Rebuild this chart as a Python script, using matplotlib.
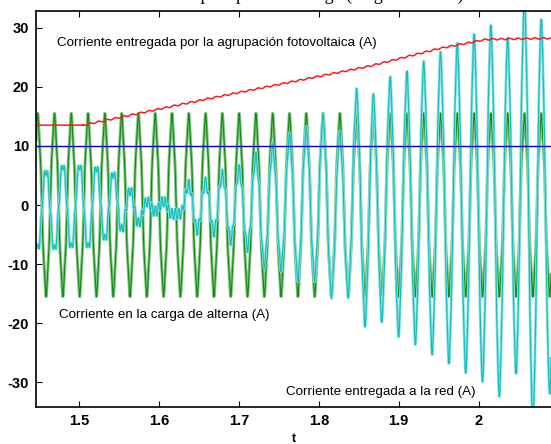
import numpy as np
import matplotlib.pyplot as plt

plt.rcParams['font.family'] = ['Liberation Sans', 'DejaVu Sans']
plt.rcParams['axes.unicode_minus'] = False

# ventana de tiempo / corriente
t_lim = (1.4462, 2.0905)
i_lim = (-34.1, 32.8)

# corriente de la agrupacion fotovoltaica (A)
pv_t = [1.4462, 1.505, 1.659, 1.864, 1.952, 2.010, 2.0905]
pv_i = [13.5, 13.5, 17.9, 23.5, 26.5, 28.0, 28.2]
pv_ripple = 0.12

# nivel de referencia (A)
i_ref = 10.0

# ciclo de red
t_first_peak = 1.4483
period = 0.021

# corriente en la carga de alterna: picos (A)
load_peak = 15.5
load_trough = -15.5

# corriente entregada a la red: extremos en cada semiciclo (desde t_first_peak - T/2)
grid_ext = [6.0,
            -7.5, 5.9, -7.6, 6.8, -7.3, 6.8, -7.3, 6.5, -5.9, 5.4,
            -4.2, 2.5, -3.1, 0.6, -1.1, 0.6, -1.5, -1.5, 3.4, -4.2,
            3.8, -4.5, 5.1, -5.9, 5.9, -7.1, 8.0, -9.9, 9.6, -10.4,
            11.3, -12.1, 12.4, -12.1, 14.4, -14.9, 11.6, -14.8, 18.8, -19.7,
            17.9, -18.9, 20.8, -21.4, 21.7, -22.7, 23.4, -24.4, 25.0, -25.9,
            26.5, -27.5, 28.0, -29.0, 29.5, -31.5, 27.4, -27.6, 34.0, -36.0,
            30.5, -31.0, 30.0]

harm = 0.9  # rizado de 5o armonico


def half_cycle_wave(t, t_start, half, ext):
    # une los extremos de cada semiciclo con medio coseno
    ext = np.asarray(ext, dtype=float)
    pos = (t - t_start) / half
    k = np.clip(np.floor(pos).astype(int), 0, len(ext) - 2)
    u = pos - k
    return ext[k] + (ext[k + 1] - ext[k]) * (1 - np.cos(np.pi * u)) / 2


t = np.arange(t_lim[0], t_lim[1] + 0.0002, 0.0001)
half = period / 2
theta = 2 * np.pi * (t - t_first_peak) / period

n_half = len(grid_ext)
load_ext = [load_peak if (n % 2 == 1) else load_trough for n in range(n_half)]
i_load = half_cycle_wave(t, t_first_peak - half, half, load_ext)
i_load = i_load * (load_peak - harm) / load_peak + harm * np.cos(5 * theta)
i_grid = half_cycle_wave(t, t_first_peak - half, half, grid_ext)
i_grid = i_grid + harm * np.cos(5 * theta)

i_pv = np.interp(t, pv_t, pv_i)
i_pv = i_pv + pv_ripple * np.sin(2 * theta) * (t > pv_t[1])

fig = plt.figure(figsize=(5.51, 4.44), dpi=100)
ax = fig.add_axes([36 / 551, 37.3 / 444, 1 - 36 / 551, 395.7 / 444])

ax.plot(t, i_load, color='#80c480', lw=2.2)
ax.plot(t, i_load, color='#168a16', lw=0.8)
ax.plot(t, i_grid, color='#8adfdf', lw=2.0)
ax.plot(t, i_grid, color='#12c0c0', lw=0.8)
ax.plot(t, i_pv, color='#ff1a1a', lw=1.1)
ax.axhline(i_ref, color='#0000c8', lw=1.0)

ax.set_xlim(*t_lim)
ax.set_ylim(*i_lim)
ax.set_xticks([1.5, 1.6, 1.7, 1.8, 1.9, 2.0])
ax.set_xticklabels(['1.5', '1.6', '1.7', '1.8', '1.9', '2'])
ax.set_yticks([-30, -20, -10, 0, 10, 20, 30])
ax.tick_params(direction='in', length=4, width=0.8, top=True, right=False,
               labelsize=10.5, pad=5)
for lab in ax.get_xticklabels() + ax.get_yticklabels():
    lab.set_fontweight('bold')
ax.spines['right'].set_visible(False)
for s in ('left', 'bottom', 'top'):
    ax.spines[s].set_linewidth(1.2)

ax.set_xlabel('t', fontsize=9, fontweight='bold', labelpad=4)

ax.text(1.4725, 27.4, 'Corriente entregada por la agrupación fotovoltaica (A)',
        fontsize=9.6, va='center')
ax.text(1.4745, -18.6, 'Corriente en la carga de alterna (A)',
        fontsize=9.6, va='center')
ax.text(1.759, -31.6, 'Corriente entregada a la red (A)',
        fontsize=9.6, va='center')

fig.text(0.53, 1.0, 'Corrientes para punto de carga (carga no lineal)',
         family='Liberation Serif', fontsize=13, ha='center', va='baseline')

fig.savefig('out.png', dpi=100)
